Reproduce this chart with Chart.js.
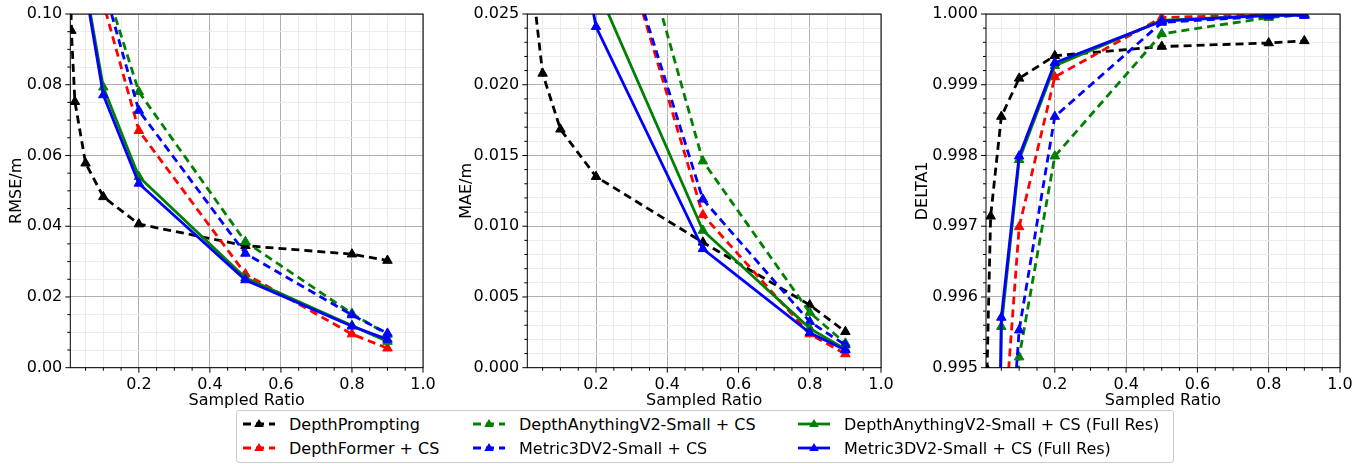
<!DOCTYPE html>
<html>
<head>
<meta charset="utf-8">
<script src="https://cdn.jsdelivr.net/npm/chart.js@4/dist/chart.umd.min.js"></script>
<style>
  body { margin: 0; width: 1367px; height: 464px; background: #fff; overflow: hidden; position: relative; font-family: "DejaVu Sans", sans-serif; }
  .panel { position: absolute; top: 0; height: 414px; }
  #legend {
    position: absolute; left: 236px; top: 410px; width: 930px; height: 50px;
    border: 1px solid #cccccc; border-radius: 3px; background: #fff;
    display: grid; grid-auto-flow: column; grid-template-rows: 24px 24px;
    grid-template-columns: 230px 325px auto; padding: 1px 0 0 6px; box-sizing: content-box;
    font-size: 16px; color: #000; z-index: 2;
  }
  .item { display: flex; align-items: center; white-space: nowrap; }
  .item svg { margin-right: 14px; flex: none; }
</style>
</head>
<body>
<div class="panel" style="left:3px;width:437px"><canvas id="rmse"></canvas></div>
<div class="panel" style="left:453px;width:445px"><canvas id="mae"></canvas></div>
<div class="panel" style="left:909px;width:448px"><canvas id="delta"></canvas></div>
<div id="legend"></div>
<script>
// sampled ratios
let promptRatios = [0.005, 0.01, 0.02, 0.05, 0.1, 0.2, 0.5, 0.8, 0.9];
let methodRatios = [0.02, 0.05, 0.1, 0.2, 0.5, 0.8, 0.9];

// RMSE / m
let rmsePrompting = [0.13, 0.0953, 0.0752, 0.0578, 0.0483, 0.0406, 0.0345, 0.0321, 0.0303];
let rmseFormer = [0.17, 0.135, 0.1031, 0.0670, 0.0265, 0.0095, 0.0055];
let rmseDav2 = [0.19, 0.15, 0.1099, 0.0780, 0.0356, 0.0153, 0.0094];
let rmseMetric = [0.18, 0.145, 0.1081, 0.0727, 0.0323, 0.0149, 0.0097];
let rmseDav2Full = [0.16, 0.1079, 0.0793, 0.0540, 0.0254, 0.0119, 0.0074];
let rmseMetricFull = [0.15, 0.1068, 0.0771, 0.0521, 0.0248, 0.0117, 0.0080];

// MAE / m
let maePrompting = [0.045, 0.034, 0.0274, 0.0208, 0.01685, 0.0135, 0.00886, 0.00443, 0.00254];
let maeFormer = [0.07, 0.052, 0.043, 0.0362, 0.0108, 0.00238, 0.00097];
let maeDav2 = [0.075, 0.058, 0.049, 0.0415, 0.0146, 0.0039, 0.00172];
let maeMetric = [0.07, 0.054, 0.044, 0.0359, 0.0119, 0.00325, 0.0016];
let maeDav2Full = [0.06, 0.048, 0.037, 0.0270, 0.0097, 0.00278, 0.0013];
let maeMetricFull = [0.055, 0.045, 0.0374, 0.0241, 0.0084, 0.00247, 0.00125];

// DELTA1
let deltaPrompting = [0.990, 0.99498, 0.99714, 0.99855, 0.99909, 0.99941, 0.99954, 0.99959, 0.99962];
let deltaFormer = [0.988, 0.99358, 0.99699, 0.99911, 0.99995, 0.99999, 1.0];
let deltaDav2 = [0.985, 0.990, 0.99515, 0.99799, 0.99972, 0.99995, 0.99999];
let deltaMetric = [0.986, 0.9920, 0.99553, 0.99855, 0.99988, 0.99997, 0.99998];
let deltaDav2Full = [0.985, 0.99558, 0.99794, 0.99927, 0.99991, 0.99998, 0.99999];
let deltaMetricFull = [0.985, 0.99571, 0.99799, 0.99931, 0.99990, 0.99998, 0.99998];

let seriesNames = ["DepthPrompting", "DepthFormer + CS", "DepthAnythingV2-Small + CS",
    "Metric3DV2-Small + CS", "DepthAnythingV2-Small + CS (Full Res)", "Metric3DV2-Small + CS (Full Res)"];
let seriesColors = ["#000000", "#ff0000", "#008000", "#0000ff", "#008000", "#0000ff"];
let seriesDashed = [true, true, true, true, false, false];
let seriesRatios = [promptRatios, methodRatios, methodRatios, methodRatios, methodRatios, methodRatios];

// axis ticks
let xMajorTicks = [0.2, 0.4, 0.6, 0.8, 1.0];
let rmseTicks = [0.00, 0.02, 0.04, 0.06, 0.08, 0.10];
let maeTicks = [0.000, 0.005, 0.010, 0.015, 0.020, 0.025];
let deltaTicks = [0.995, 0.996, 0.997, 0.998, 0.999, 1.000];

const FONT = "DejaVu Sans";

function isMajor(v, list) {
    return list.some(t => Math.abs(t - v) < 1e-9);
}

function minorTicks(min, max, step) {
    let out = [];
    let start = Math.ceil(min / step - 1e-9);
    for (let i = start; i * step <= max + 1e-9; i++) {
        out.push({ value: Number((i * step).toFixed(6)) });
    }
    return out;
}

// box around the plot area + small tick marks like matplotlib
const frame = {
    id: "frame",
    afterDatasetsDraw(chart, args, opts) {
        const { ctx, chartArea: a, scales } = chart;
        ctx.save();
        ctx.strokeStyle = "#000";
        ctx.lineWidth = 1;
        ctx.strokeRect(a.left, a.top, a.right - a.left, a.bottom - a.top);
        ctx.beginPath();
        scales.x.ticks.forEach(t => {
            let px = scales.x.getPixelForValue(t.value);
            let len = isMajor(t.value, xMajorTicks) ? 5 : 3;
            ctx.moveTo(px, a.bottom);
            ctx.lineTo(px, a.bottom + len);
        });
        scales.y.ticks.forEach(t => {
            let py = scales.y.getPixelForValue(t.value);
            let len = isMajor(t.value, opts.major) ? 5 : 3;
            ctx.moveTo(a.left, py);
            ctx.lineTo(a.left - len, py);
        });
        ctx.stroke();
        ctx.restore();
    }
};

function makeChart(el, title, values, yMajor, yStep, decimals) {
    let datasets = values.map((vals, i) => ({
        label: seriesNames[i],
        data: vals.map((v, j) => ({ x: seriesRatios[i][j], y: v })),
        borderColor: seriesColors[i],
        backgroundColor: seriesColors[i],
        borderWidth: 2.8,
        borderDash: seriesDashed[i] ? [8, 5] : [],
        pointStyle: "triangle",
        pointRadius: 5.5,
        pointBorderWidth: 1,
        tension: 0,
        clip: 0,
        order: values.length - i,
    }));

    let yMin = yMajor[0], yMax = yMajor[yMajor.length - 1];

    return new Chart(document.getElementById(el), {
        type: "line",
        data: { datasets },
        options: {
            responsive: true,
            maintainAspectRatio: false,
            animation: false,
            devicePixelRatio: 1,
            layout: { padding: { top: 14, right: 17, left: 0, bottom: 0 } },
            plugins: {
                legend: { display: false },
                tooltip: { enabled: false },
                frame: { major: yMajor },
            },
            scales: {
                x: {
                    type: "linear",
                    min: 0.007,
                    max: 1.0,
                    afterBuildTicks: s => { s.ticks = minorTicks(0.05, 1.0, 0.05); },
                    afterFit: s => { s.height = 414 - 367.7; },
                    border: { display: false },
                    grid: {
                        color: c => isMajor(c.tick.value, xMajorTicks) ? "#b0b0b0" : "#ebebeb",
                        lineWidth: 1,
                        tickLength: 7,
                        tickColor: "rgba(0,0,0,0)",
                    },
                    ticks: {
                        autoSkip: false,
                        maxRotation: 0,
                        padding: 1,
                        color: "#000",
                        font: { family: FONT, size: 16 },
                        callback: v => isMajor(v, xMajorTicks) ? v.toFixed(1) : "",
                    },
                    title: {
                        display: true,
                        text: "Sampled Ratio",
                        color: "#000",
                        font: { family: FONT, size: 16 },
                        padding: { top: 0, bottom: 4 },
                    },
                },
                y: {
                    type: "linear",
                    min: yMin,
                    max: yMax,
                    afterBuildTicks: s => { s.ticks = minorTicks(yMin, yMax, yStep); },
                    afterFit: s => { s.width = s.chart.canvas.parentNode.dataset.yw * 1; },
                    border: { display: false },
                    grid: {
                        color: c => isMajor(c.tick.value, yMajor) ? "#b0b0b0" : "#ebebeb",
                        lineWidth: 1,
                        tickLength: 7,
                        tickColor: "rgba(0,0,0,0)",
                    },
                    ticks: {
                        autoSkip: false,
                        padding: 1,
                        color: "#000",
                        font: { family: FONT, size: 16 },
                        callback: v => isMajor(v, yMajor) ? v.toFixed(decimals) : "",
                    },
                    title: {
                        display: true,
                        text: title,
                        color: "#000",
                        font: { family: FONT, size: 16 },
                        padding: { top: 4, bottom: 4 },
                    },
                },
            },
        },
        plugins: [frame],
    });
}

document.getElementById("rmse").parentNode.dataset.yw = 67.3;
document.getElementById("mae").parentNode.dataset.yw = 74.3;
document.getElementById("delta").parentNode.dataset.yw = 77;

makeChart("rmse", "RMSE/m",
    [rmsePrompting, rmseFormer, rmseDav2, rmseMetric, rmseDav2Full, rmseMetricFull],
    rmseTicks, 0.005, 2);
makeChart("mae", "MAE/m",
    [maePrompting, maeFormer, maeDav2, maeMetric, maeDav2Full, maeMetricFull],
    maeTicks, 0.001, 3);
makeChart("delta", "DELTA1",
    [deltaPrompting, deltaFormer, deltaDav2, deltaMetric, deltaDav2Full, deltaMetricFull],
    deltaTicks, 0.0002, 3);

// shared legend below the three panels
let legend = document.getElementById("legend");
seriesNames.forEach((name, i) => {
    let c = seriesColors[i];
    let dash = seriesDashed[i] ? 'stroke-dasharray="8 5"' : "";
    let item = document.createElement("div");
    item.className = "item";
    item.innerHTML =
        '<svg width="32" height="14"><line x1="0" y1="7" x2="32" y2="7" stroke="' + c +
        '" stroke-width="2.8" ' + dash + '/><polygon points="16,2 20.8,10 11.2,10" fill="' + c +
        '"/></svg><span>' + name + '</span>';
    legend.appendChild(item);
});
</script>
</body>
</html>
